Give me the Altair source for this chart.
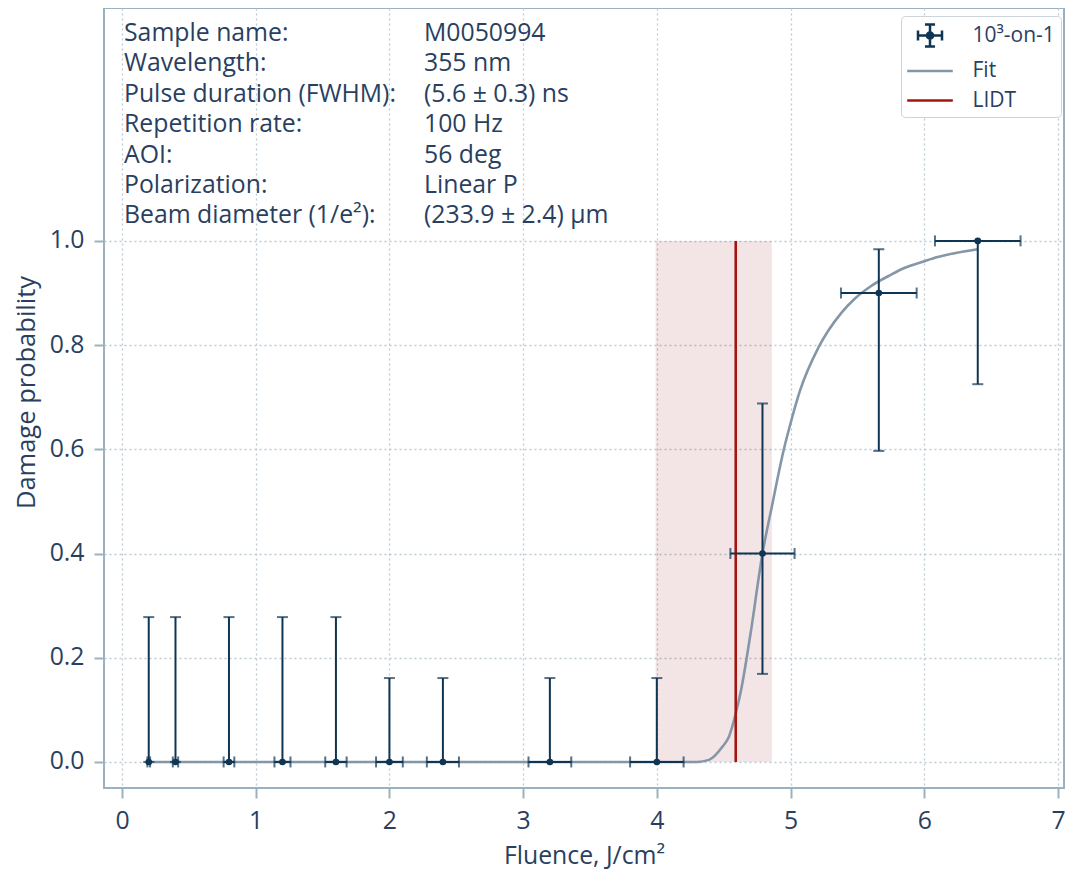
import altair as alt
import pandas as pd

# ---------------- data ----------------
fluence = [0.2, 0.4, 0.8, 1.2, 1.6, 2.0, 2.4, 3.2, 4.0, 4.79, 5.66, 6.40]
fluence_err = [0.01, 0.02, 0.04, 0.06, 0.08, 0.10, 0.12, 0.16, 0.20, 0.24, 0.283, 0.32]
probability = [0, 0, 0, 0, 0, 0, 0, 0, 0, 0.40, 0.90, 1.00]
prob_low = [0, 0, 0, 0, 0, 0, 0, 0, 0, 0.169, 0.597, 0.725]
prob_high = [0.278, 0.278, 0.278, 0.278, 0.278, 0.161, 0.161, 0.161, 0.161, 0.688, 0.984, 1.00]

fit_fluence = [0.19, 4.30, 4.39, 4.49, 4.54, 4.59, 4.63, 4.70, 4.79, 4.86, 4.95, 5.00,
               5.07, 5.21, 5.38, 5.48, 5.60, 5.75, 5.85, 6.00, 6.10, 6.40]
fit_probability = [0, 0, 0.004, 0.029, 0.049, 0.093, 0.138, 0.245, 0.40, 0.49, 0.60, 0.650,
                   0.712, 0.796, 0.862, 0.889, 0.913, 0.935, 0.948, 0.961, 0.969, 0.984]

lidt_value = [4.59]
lidt_low = [3.99]
lidt_high = [4.86]

series_names = ["10\u00b3-on-1", "Fit", "LIDT"]

info_labels = ["Sample name:", "Wavelength:", "Pulse duration (FWHM):", "Repetition rate:",
               "AOI:", "Polarization:", "Beam diameter (1/e\u00b2):"]
info_values = ["M0050994", "355 nm", "(5.6 \u00b1 0.3) ns", "100 Hz", "56 deg", "Linear P",
               "(233.9 \u00b1 2.4) \u00b5m"]

x_ticks = [0, 1, 2, 3, 4, 5, 6, 7]
y_ticks = [0.0, 0.2, 0.4, 0.6, 0.8, 1.0]

# ---------------- styling ----------------
NAVY = "#0e3553"
FIT = "#8497a8"
RED = "#a3150f"
FRAME = "#9cb1bf"
GRID = "#bccad3"
TEXT = "#2a3f5f"
FONT = "Open Sans"
FS = 24.8

W, H = 960, 780

pts = pd.DataFrame({
    "f": fluence,
    "p": probability,
    "lo": prob_low,
    "hi": prob_high,
    "flo": [a - b for a, b in zip(fluence, fluence_err)],
    "fhi": [a + b for a, b in zip(fluence, fluence_err)],
})
fit_df = pd.DataFrame({"f": fit_fluence, "p": fit_probability})
lidt_df = pd.DataFrame({"f": lidt_value, "flo": lidt_low, "fhi": lidt_high,
                        "p0": [0.0], "p1": [1.0]})
legend_df = pd.DataFrame({"series": series_names})

xs = alt.Scale(domain=[-0.1346, 7.045], nice=False, zero=False)
ys = alt.Scale(domain=[-0.05, 1.447], nice=False, zero=False)

x_axis = alt.Axis(values=x_ticks, format="d", titleY=75, titleBaseline="alphabetic")
y_axis = alt.Axis(values=y_ticks, format=".1f", titleX=-70, titleY=384,
                  titleBaseline="alphabetic", titleAngle=270, titleFontSize=25.5)
XT = "Fluence, J/cm\u00b2"
YT = "Damage probability"


def X(field):
    return alt.X(field, type="quantitative", scale=xs, axis=x_axis, title=XT)


def Y(field):
    return alt.Y(field, type="quantitative", scale=ys, axis=y_axis, title=YT)


band = alt.Chart(lidt_df).mark_rect(color="#8b0000", opacity=0.1).encode(
    x=X("flo"), x2="fhi", y=Y("p0"), y2="p1")

fit = alt.Chart(fit_df).mark_line(color=FIT, strokeWidth=2.6, interpolate="monotone").encode(
    x=X("f"), y=Y("p"), order="f:Q")

lidt = alt.Chart(lidt_df).mark_rule(color=RED, strokeWidth=2.6).encode(
    x=X("f"), y=Y("p0"), y2="p1")

vbar = alt.Chart(pts).mark_rule(color=NAVY, strokeWidth=2).encode(
    x=X("f"), y=Y("lo"), y2="hi")
hbar = alt.Chart(pts).mark_rule(color=NAVY, strokeWidth=2).encode(
    x=X("flo"), x2="fhi", y=Y("p"))

cap_lo = alt.Chart(pts).mark_tick(color=NAVY, orient="horizontal", size=11, thickness=2).encode(
    x=X("f"), y=Y("lo"))
cap_hi = alt.Chart(pts).mark_tick(color=NAVY, orient="horizontal", size=11, thickness=2).encode(
    x=X("f"), y=Y("hi"))
cap_l = alt.Chart(pts).mark_tick(color=NAVY, orient="vertical", size=11, thickness=2).encode(
    x=X("flo"), y=Y("p"))
cap_r = alt.Chart(pts).mark_tick(color=NAVY, orient="vertical", size=11, thickness=2).encode(
    x=X("fhi"), y=Y("p"))

dots = alt.Chart(pts).mark_circle(color=NAVY, size=44, opacity=1).encode(
    x=X("f"), y=Y("p"))

# legend symbols (custom paths, unit = sqrt(size)/2 = 12 px)
dot_path = ("M0.26,0A0.26,0.26 0 1 1 -0.26,0A0.26,0.26 0 1 1 0.26,0Z"
            "M0.13,0A0.13,0.13 0 1 1 -0.13,0A0.13,0.13 0 1 1 0.13,0Z"
            "M0.03,0A0.03,0.03 0 1 1 -0.03,0A0.03,0.03 0 1 1 0.03,0Z")
errbar_path = ("M-1,0H1M-1,-0.42V0.42M1,-0.42V0.42"
               "M0,-0.92V0.92M-0.42,-0.92H0.42M-0.42,0.92H0.42" + dot_path)
line_path = "M-1.9,0H1.9"

legend_layer = alt.Chart(legend_df).mark_point(filled=False).encode(
    color=alt.Color("series:N", scale=alt.Scale(domain=series_names, range=[NAVY, FIT, RED]),
                    legend=alt.Legend(title=None, orient="none", legendX=797, legendY=8,
                                      symbolSize=576, symbolStrokeWidth=2.5,
                                      symbolOpacity=1, symbolOffset=9.5,
                                      labelOffset=29, labelFontSize=21,
                                      labelColor=TEXT, labelFont=FONT,
                                      rowPadding=5.5, padding=6,
                                      fillColor="white", strokeColor="#cdd5db",
                                      cornerRadius=4)),
    shape=alt.Shape("series:N", scale=alt.Scale(domain=series_names,
                                                 range=[errbar_path, line_path, line_path]),
                    legend=None),
    opacity=alt.value(0),
)

info_left = alt.Chart(pd.DataFrame({"t": ["\n".join(info_labels)]})).mark_text(
    align="left", baseline="alphabetic", lineBreak="\n", lineHeight=30.4,
    fontSize=FS, font=FONT, color=TEXT).encode(
    x=alt.value(20), y=alt.value(33), text="t:N")
info_right = alt.Chart(pd.DataFrame({"t": ["\n".join(info_values)]})).mark_text(
    align="left", baseline="alphabetic", lineBreak="\n", lineHeight=30.4,
    fontSize=FS, font=FONT, color=TEXT).encode(
    x=alt.value(320), y=alt.value(33), text="t:N")

chart = alt.layer(
    band, fit, lidt, vbar, hbar, cap_lo, cap_hi, cap_l, cap_r, dots, legend_layer,
    info_left, info_right,
).properties(
    width=W, height=H,
    autosize=alt.AutoSizeParams(type="none"),
    padding={"left": 96, "top": 0, "right": 3, "bottom": 81},
).configure_view(
    stroke=FRAME, strokeWidth=2,
).configure_axis(
    domain=False,
    grid=True, gridColor=GRID, gridDash=[2, 3], gridWidth=1.3,
    ticks=True, tickColor=FRAME, tickWidth=2, tickSize=10,
    labelFont=FONT, labelFontSize=FS, labelColor=TEXT, labelPadding=10,
    titleFont=FONT, titleFontSize=FS, titleColor=TEXT, titleFontWeight="normal",
).configure_legend(
    labelFont=FONT,
)

chart.save("out.html", embed_options={"renderer": "svg", "actions": False})
